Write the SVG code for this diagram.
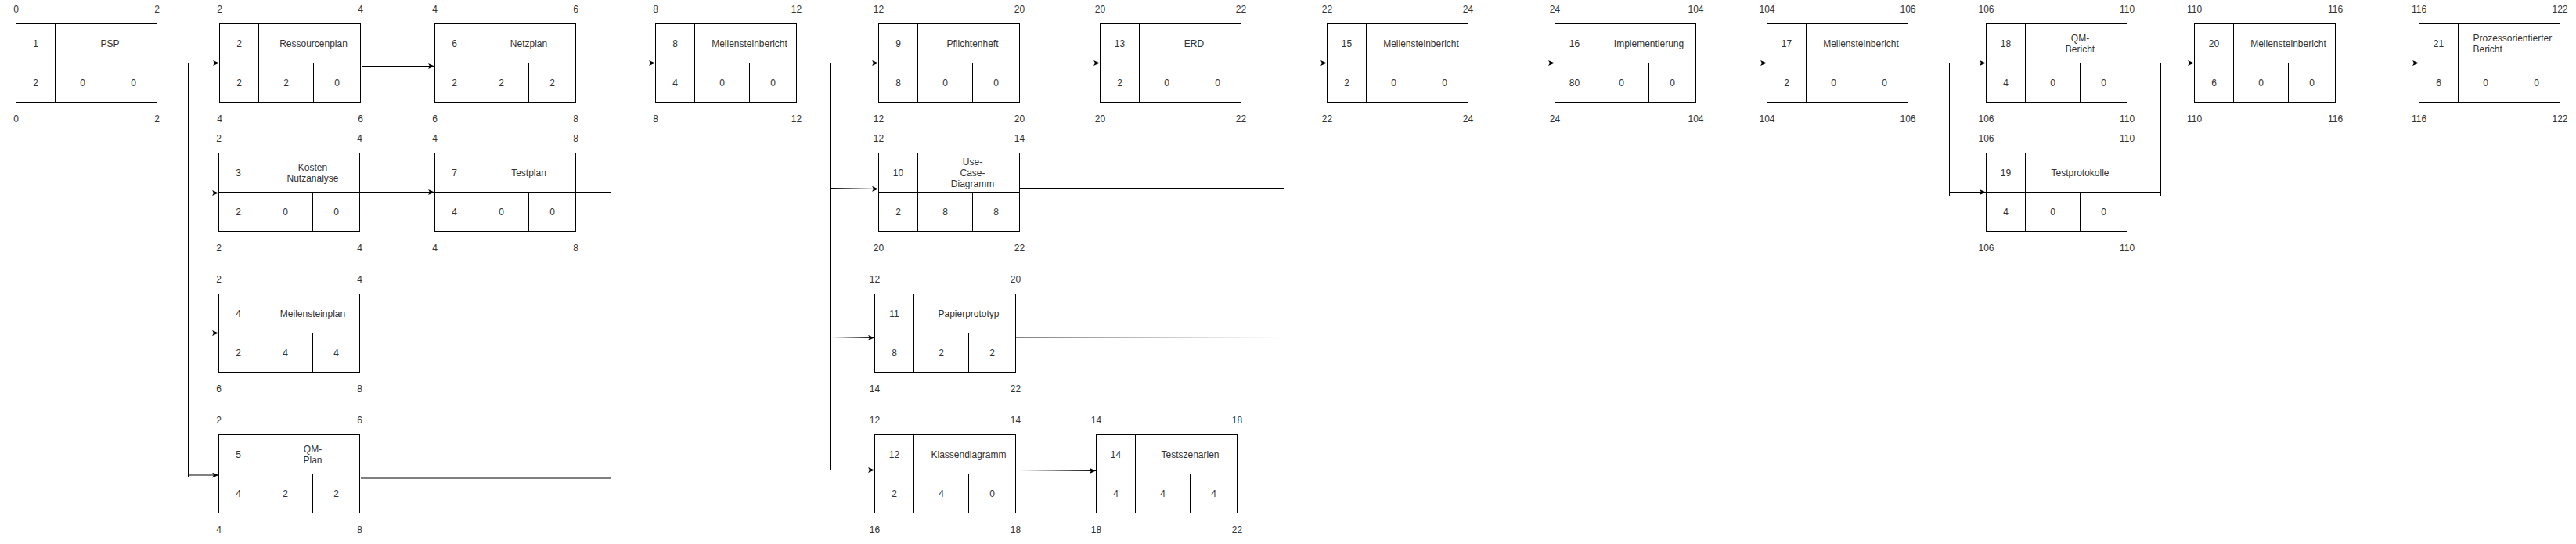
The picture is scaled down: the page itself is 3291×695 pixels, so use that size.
<svg xmlns="http://www.w3.org/2000/svg" width="3291" height="695" viewBox="0 0 3291 695">
<style>
.bx{fill:#fff;stroke:#000;stroke-width:1}
.dv{fill:none;stroke:#000;stroke-width:1}
text{font-family:"Liberation Sans",Arial,Helvetica,sans-serif;font-size:12px;fill:#333;text-anchor:middle;dominant-baseline:central}
.l{text-anchor:start}
.c{fill:none;stroke:#000;stroke-width:1}
.a{marker-end:url(#arr)}
</style>
<defs>
<marker id="arr" markerWidth="9" markerHeight="8" refX="8" refY="3.5" orient="auto" markerUnits="userSpaceOnUse">
<path d="M0,0 L8,3.5 L0,7 L2,3.5 Z" fill="#000"/>
</marker>
</defs>
<rect width="3291" height="695" fill="#fff"/>

<g id="connectors">
<path class="c a" d="M203,80.5H280"/>
<path class="c" d="M240.5,80.5V610"/>
<path class="c a" d="M240.5,246.5H279"/>
<path class="c a" d="M240.5,425.5H279"/>
<path class="c a" d="M240.5,607H279"/>
<path class="c a" d="M463,84.5H555"/>
<path class="c a" d="M459,245.5H555"/>
<path class="c a" d="M735,80.5H837"/>
<path class="c" d="M780.5,80.5V611"/>
<path class="c" d="M735,245.5H780.5"/>
<path class="c" d="M459,425.5H780.5"/>
<path class="c" d="M461,611H780.5"/>
<path class="c a" d="M1017,80.5H1122"/>
<path class="c" d="M1061.5,80.5V600.5"/>
<path class="c a" d="M1061.5,240.5L1122,241.5"/>
<path class="c a" d="M1061.5,430.5L1117,431.5"/>
<path class="c a" d="M1061.5,600.5H1117"/>
<path class="c a" d="M1302,80.5H1405"/>
<path class="c a" d="M1301,600.5L1400,601.5"/>
<path class="c a" d="M1585,80.5H1695"/>
<path class="c" d="M1640.5,80.5V610"/>
<path class="c" d="M1301,240.5H1640.5"/>
<path class="c" d="M1297,431L1640.5,430.5"/>
<path class="c" d="M1580,605.5H1640.5"/>
<path class="c a" d="M1875,80.5H1986"/>
<path class="c a" d="M2166,80.5H2257"/>
<path class="c a" d="M2438,80.5H2537"/>
<path class="c" d="M2490.5,80.5V251"/>
<path class="c a" d="M2490.5,245.5H2537"/>
<path class="c a" d="M2718,80.5H2803"/>
<path class="c" d="M2760.5,80.5V250"/>
<path class="c" d="M2718,245.5H2760.5"/>
<path class="c a" d="M2983,80.5H3090"/>
</g>

<g id="n1" transform="translate(20.5,30.5)">
<rect class="bx" width="180" height="100"/><path class="dv" d="M0,50H180M50,0V100M120,50V100"/>
<text x="25" y="25">1</text><text x="120" y="25">PSP</text>
<text x="25" y="75">2</text><text x="85" y="75">0</text><text x="150" y="75">0</text>
<text x="0" y="-19">0</text><text x="180" y="-19">2</text><text x="0" y="121">0</text><text x="180" y="121">2</text>
</g>
<g id="n2" transform="translate(280.5,30.5)">
<rect class="bx" width="180" height="100"/><path class="dv" d="M0,50H180M50,0V100M120,50V100"/>
<text x="25" y="25">2</text><text x="120" y="25">Ressourcenplan</text>
<text x="25" y="75">2</text><text x="85" y="75">2</text><text x="150" y="75">0</text>
<text x="0" y="-19">2</text><text x="180" y="-19">4</text><text x="0" y="121">4</text><text x="180" y="121">6</text>
</g>
<g id="n3" transform="translate(279.5,195.5)">
<rect class="bx" width="180" height="100"/><path class="dv" d="M0,50H180M50,0V100M120,50V100"/>
<text x="25" y="25">3</text><text x="120" y="18">Kosten</text><text x="120" y="32">Nutzanalyse</text>
<text x="25" y="75">2</text><text x="85" y="75">0</text><text x="150" y="75">0</text>
<text x="0" y="-19">2</text><text x="180" y="-19">4</text><text x="0" y="121">2</text><text x="180" y="121">4</text>
</g>
<g id="n4" transform="translate(279.5,375.5)">
<rect class="bx" width="180" height="100"/><path class="dv" d="M0,50H180M50,0V100M120,50V100"/>
<text x="25" y="25">4</text><text x="120" y="25">Meilensteinplan</text>
<text x="25" y="75">2</text><text x="85" y="75">4</text><text x="150" y="75">4</text>
<text x="0" y="-19">2</text><text x="180" y="-19">4</text><text x="0" y="121">6</text><text x="180" y="121">8</text>
</g>
<g id="n5" transform="translate(279.5,555.5)">
<rect class="bx" width="180" height="100"/><path class="dv" d="M0,50H180M50,0V100M120,50V100"/>
<text x="25" y="25">5</text><text x="120" y="18">QM-</text><text x="120" y="32">Plan</text>
<text x="25" y="75">4</text><text x="85" y="75">2</text><text x="150" y="75">2</text>
<text x="0" y="-19">2</text><text x="180" y="-19">6</text><text x="0" y="121">4</text><text x="180" y="121">8</text>
</g>
<g id="n6" transform="translate(555.5,30.5)">
<rect class="bx" width="180" height="100"/><path class="dv" d="M0,50H180M50,0V100M120,50V100"/>
<text x="25" y="25">6</text><text x="120" y="25">Netzplan</text>
<text x="25" y="75">2</text><text x="85" y="75">2</text><text x="150" y="75">2</text>
<text x="0" y="-19">4</text><text x="180" y="-19">6</text><text x="0" y="121">6</text><text x="180" y="121">8</text>
</g>
<g id="n7" transform="translate(555.5,195.5)">
<rect class="bx" width="180" height="100"/><path class="dv" d="M0,50H180M50,0V100M120,50V100"/>
<text x="25" y="25">7</text><text x="120" y="25">Testplan</text>
<text x="25" y="75">4</text><text x="85" y="75">0</text><text x="150" y="75">0</text>
<text x="0" y="-19">4</text><text x="180" y="-19">8</text><text x="0" y="121">4</text><text x="180" y="121">8</text>
</g>
<g id="n8" transform="translate(837.5,30.5)">
<rect class="bx" width="180" height="100"/><path class="dv" d="M0,50H180M50,0V100M120,50V100"/>
<text x="25" y="25">8</text><text x="120" y="25">Meilensteinbericht</text>
<text x="25" y="75">4</text><text x="85" y="75">0</text><text x="150" y="75">0</text>
<text x="0" y="-19">8</text><text x="180" y="-19">12</text><text x="0" y="121">8</text><text x="180" y="121">12</text>
</g>
<g id="n9" transform="translate(1122.5,30.5)">
<rect class="bx" width="180" height="100"/><path class="dv" d="M0,50H180M50,0V100M120,50V100"/>
<text x="25" y="25">9</text><text x="120" y="25">Pflichtenheft</text>
<text x="25" y="75">8</text><text x="85" y="75">0</text><text x="150" y="75">0</text>
<text x="0" y="-19">12</text><text x="180" y="-19">20</text><text x="0" y="121">12</text><text x="180" y="121">20</text>
</g>
<g id="n10" transform="translate(1122.5,195.5)">
<rect class="bx" width="180" height="100"/><path class="dv" d="M0,50H180M50,0V100M120,50V100"/>
<text x="25" y="25">10</text><text x="120" y="11">Use-</text><text x="120" y="25">Case-</text><text x="120" y="39">Diagramm</text>
<text x="25" y="75">2</text><text x="85" y="75">8</text><text x="150" y="75">8</text>
<text x="0" y="-19">12</text><text x="180" y="-19">14</text><text x="0" y="121">20</text><text x="180" y="121">22</text>
</g>
<g id="n11" transform="translate(1117.5,375.5)">
<rect class="bx" width="180" height="100"/><path class="dv" d="M0,50H180M50,0V100M120,50V100"/>
<text x="25" y="25">11</text><text x="120" y="25">Papierprototyp</text>
<text x="25" y="75">8</text><text x="85" y="75">2</text><text x="150" y="75">2</text>
<text x="0" y="-19">12</text><text x="180" y="-19">20</text><text x="0" y="121">14</text><text x="180" y="121">22</text>
</g>
<g id="n12" transform="translate(1117.5,555.5)">
<rect class="bx" width="180" height="100"/><path class="dv" d="M0,50H180M50,0V100M120,50V100"/>
<text x="25" y="25">12</text><text x="120" y="25">Klassendiagramm</text>
<text x="25" y="75">2</text><text x="85" y="75">4</text><text x="150" y="75">0</text>
<text x="0" y="-19">12</text><text x="180" y="-19">14</text><text x="0" y="121">16</text><text x="180" y="121">18</text>
</g>
<g id="n13" transform="translate(1405.5,30.5)">
<rect class="bx" width="180" height="100"/><path class="dv" d="M0,50H180M50,0V100M120,50V100"/>
<text x="25" y="25">13</text><text x="120" y="25">ERD</text>
<text x="25" y="75">2</text><text x="85" y="75">0</text><text x="150" y="75">0</text>
<text x="0" y="-19">20</text><text x="180" y="-19">22</text><text x="0" y="121">20</text><text x="180" y="121">22</text>
</g>
<g id="n14" transform="translate(1400.5,555.5)">
<rect class="bx" width="180" height="100"/><path class="dv" d="M0,50H180M50,0V100M120,50V100"/>
<text x="25" y="25">14</text><text x="120" y="25">Testszenarien</text>
<text x="25" y="75">4</text><text x="85" y="75">4</text><text x="150" y="75">4</text>
<text x="0" y="-19">14</text><text x="180" y="-19">18</text><text x="0" y="121">18</text><text x="180" y="121">22</text>
</g>
<g id="n15" transform="translate(1695.5,30.5)">
<rect class="bx" width="180" height="100"/><path class="dv" d="M0,50H180M50,0V100M120,50V100"/>
<text x="25" y="25">15</text><text x="120" y="25">Meilensteinbericht</text>
<text x="25" y="75">2</text><text x="85" y="75">0</text><text x="150" y="75">0</text>
<text x="0" y="-19">22</text><text x="180" y="-19">24</text><text x="0" y="121">22</text><text x="180" y="121">24</text>
</g>
<g id="n16" transform="translate(1986.5,30.5)">
<rect class="bx" width="180" height="100"/><path class="dv" d="M0,50H180M50,0V100M120,50V100"/>
<text x="25" y="25">16</text><text x="120" y="25">Implementierung</text>
<text x="25" y="75">80</text><text x="85" y="75">0</text><text x="150" y="75">0</text>
<text x="0" y="-19">24</text><text x="180" y="-19">104</text><text x="0" y="121">24</text><text x="180" y="121">104</text>
</g>
<g id="n17" transform="translate(2257.5,30.5)">
<rect class="bx" width="180" height="100"/><path class="dv" d="M0,50H180M50,0V100M120,50V100"/>
<text x="25" y="25">17</text><text x="120" y="25">Meilensteinbericht</text>
<text x="25" y="75">2</text><text x="85" y="75">0</text><text x="150" y="75">0</text>
<text x="0" y="-19">104</text><text x="180" y="-19">106</text><text x="0" y="121">104</text><text x="180" y="121">106</text>
</g>
<g id="n18" transform="translate(2537.5,30.5)">
<rect class="bx" width="180" height="100"/><path class="dv" d="M0,50H180M50,0V100M120,50V100"/>
<text x="25" y="25">18</text><text x="120" y="18">QM-</text><text x="120" y="32">Bericht</text>
<text x="25" y="75">4</text><text x="85" y="75">0</text><text x="150" y="75">0</text>
<text x="0" y="-19">106</text><text x="180" y="-19">110</text><text x="0" y="121">106</text><text x="180" y="121">110</text>
</g>
<g id="n19" transform="translate(2537.5,195.5)">
<rect class="bx" width="180" height="100"/><path class="dv" d="M0,50H180M50,0V100M120,50V100"/>
<text x="25" y="25">19</text><text x="120" y="25">Testprotokolle</text>
<text x="25" y="75">4</text><text x="85" y="75">0</text><text x="150" y="75">0</text>
<text x="0" y="-19">106</text><text x="180" y="-19">110</text><text x="0" y="121">106</text><text x="180" y="121">110</text>
</g>
<g id="n20" transform="translate(2803.5,30.5)">
<rect class="bx" width="180" height="100"/><path class="dv" d="M0,50H180M50,0V100M120,50V100"/>
<text x="25" y="25">20</text><text x="120" y="25">Meilensteinbericht</text>
<text x="25" y="75">6</text><text x="85" y="75">0</text><text x="150" y="75">0</text>
<text x="0" y="-19">110</text><text x="180" y="-19">116</text><text x="0" y="121">110</text><text x="180" y="121">116</text>
</g>
<g id="n21" transform="translate(3090.5,30.5)">
<rect class="bx" width="180" height="100"/><path class="dv" d="M0,50H180M50,0V100M120,50V100"/>
<text x="25" y="25">21</text><text class="l" x="69" y="18">Prozessorientierter</text><text class="l" x="69" y="32">Bericht</text>
<text x="25" y="75">6</text><text x="85" y="75">0</text><text x="150" y="75">0</text>
<text x="0" y="-19">116</text><text x="180" y="-19">122</text><text x="0" y="121">116</text><text x="180" y="121">122</text>
</g>
</svg>
